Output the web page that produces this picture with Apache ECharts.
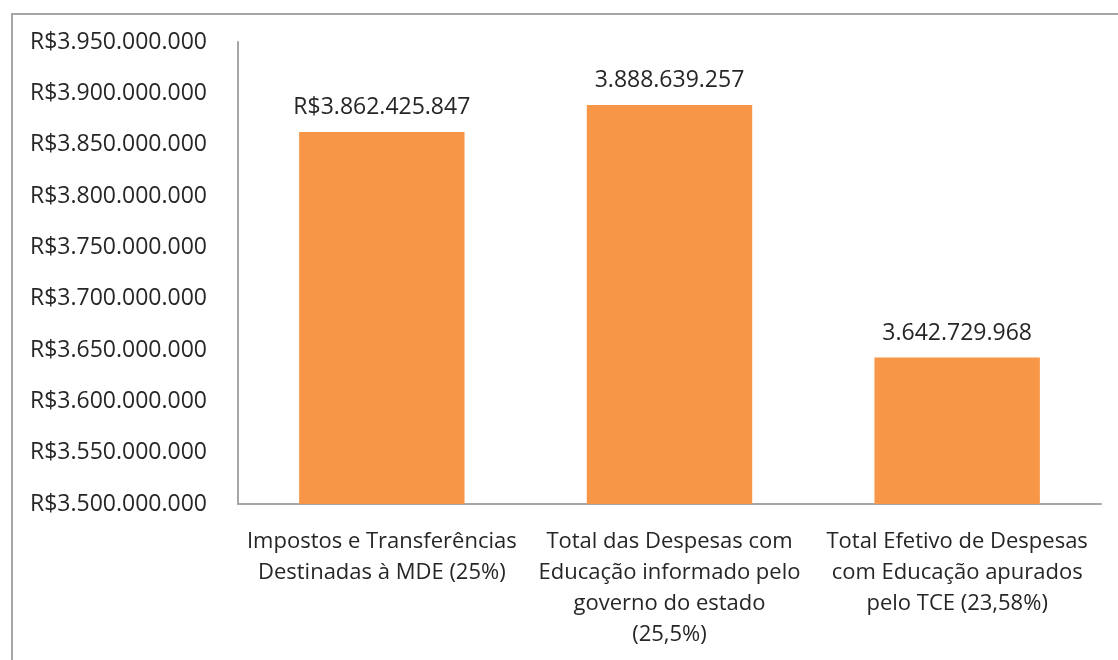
<!DOCTYPE html>
<html>
<head>
<meta charset="utf-8">
<script src="https://cdn.jsdelivr.net/npm/echarts@6/dist/echarts.min.js"></script>
<style>
  html, body { margin: 0; padding: 0; background: #fff; }
  #chart { width: 1118px; height: 660px; }
</style>
</head>
<body>
<div id="chart"></div>
<script>
// data
const categories = [
  'Impostos e Transferências\nDestinadas à MDE (25%)',
  'Total das Despesas com\nEducação informado pelo\ngoverno do estado\n(25,5%)',
  'Total Efetivo de Despesas\ncom Educação apurados\npelo TCE (23,58%)'
];
const values = [3862425847, 3888639257, 3642729968];
const valueLabels = ['R$3.862.425.847', '3.888.639.257', '3.642.729.968'];

const textColor = '#262626';
const font = '"Open Sans", "Noto Sans", sans-serif';

// pt-BR style thousands separator
function fmtMoney(v) {
  return 'R$' + String(Math.round(v)).replace(/\B(?=(\d{3})+(?!\d))/g, '.');
}

const chart = echarts.init(document.getElementById('chart'));

chart.setOption({
  animation: false,
  grid: { left: 238, right: 17, top: 42, bottom: 156 },
  graphic: [{
    type: 'rect',
    shape: { x: 12, y: 14, width: 1200, height: 700 },
    style: { fill: 'none', stroke: '#a6a6a6', lineWidth: 2 },
    silent: true
  }],
  xAxis: {
    type: 'category',
    data: categories,
    axisTick: { show: false },
    axisLine: { lineStyle: { color: '#a6a6a6', width: 2 } },
    axisLabel: {
      color: textColor,
      fontFamily: font,
      fontSize: 22,
      lineHeight: 31,
      margin: 22,
      interval: 0
    }
  },
  yAxis: {
    type: 'value',
    min: 3500000000,
    max: 3950000000,
    interval: 50000000,
    splitLine: { show: false },
    axisLine: { show: true, lineStyle: { color: '#a6a6a6', width: 2 } },
    axisTick: { show: false },
    axisLabel: {
      color: textColor,
      fontFamily: font,
      fontSize: 23,
      margin: 31,
      formatter: fmtMoney
    }
  },
  series: [{
    type: 'bar',
    data: values,
    barCategoryGap: '42.5%',
    itemStyle: { color: '#f79646' },
    label: {
      show: true,
      position: 'top',
      distance: 13,
      color: textColor,
      fontFamily: font,
      fontSize: 23,
      formatter: p => valueLabels[p.dataIndex]
    }
  }]
});
</script>
</body>
</html>
